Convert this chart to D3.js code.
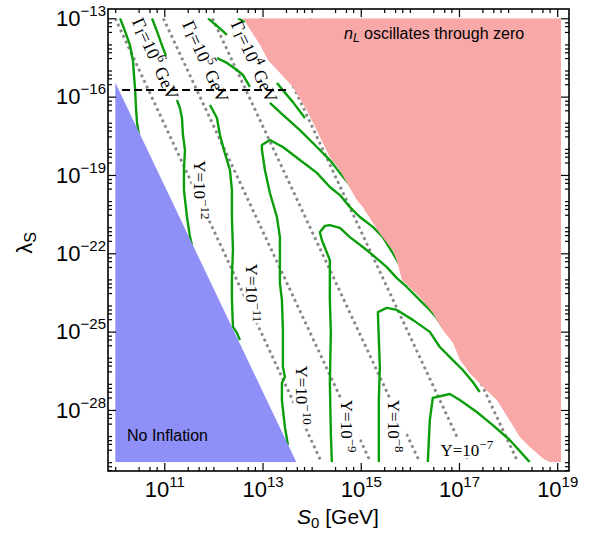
<!DOCTYPE html>
<html>
<head>
<meta charset="utf-8">
<script src="https://cdn.jsdelivr.net/npm/d3@7"></script>
<style>
  body { margin: 0; background: #fff; }
  svg { display: block; }
</style>
</head>
<body>
<div id="chart"></div>
<script>
// all points are [log10 S0, log10 lambda_S]

var sDomain = [9.854, 19.24];
var lDomain = [-30.338, -12.644];

var xMajor = [11, 13, 15, 17, 19];
var yMajor = [-28, -25, -22, -19, -16, -13];

// no inflation region (blue)
var noInflation = [[10, -15.45], [13.69, -30], [10, -30]];

// n_L oscillates through zero (pink)
var oscillates = [
  [12.60, -13], [12.95, -14.02], [13.11, -14.60], [13.62, -15.63], [13.90, -16.51],
  [14.17, -17.55], [14.37, -18.31], [14.57, -18.81], [14.72, -19.31], [14.92, -19.96],
  [15.04, -20.23], [15.38, -21.22], [15.65, -21.88], [15.73, -22.26], [15.80, -22.75],
  [15.84, -23.02], [16.20, -23.67], [16.47, -24.29], [16.67, -24.94], [16.88, -25.44],
  [17.02, -26.09], [17.22, -26.59], [17.49, -27.12], [17.77, -27.62], [18.03, -28.39],
  [18.24, -29.04], [18.44, -29.42], [18.70, -29.84], [18.85, -30], [19.08, -30], [19.08, -13]
];

// Gamma_I lines (dotted): S0 exponent at lambda = 1e-13 and at lambda = 1e-30
var gammaTop = [10.0, 10.98, 11.98, 12.98, 13.98];
var gammaBottom = [14.2, 15.2, 16.2, 17.2, 18.2];
var gammaExp = [6, 5, 4];
var gammaLabelAt = [[10.82, -14.55], [11.84, -14.66], [12.83, -14.66]];

// lambda where the dashed line sits, and its S0 span
var dashedLambda = -15.75;
var dashedSpan = [10.14, 13.56];

// Y contours (green), visible pieces
var yM13 = [[10.10, -13], [10.20, -13.49], [10.30, -14.02], [10.363, -14.64], [10.383, -15.17],
  [10.404, -15.67], [10.424, -16.43], [10.445, -17.01], [10.485, -17.47]];
var yM12a = [[10.75, -13], [10.85, -13.49], [10.95, -14.02], [11.035, -14.44]];
var yM12b = [[11.258, -16.13], [11.319, -16.44], [11.36, -16.82], [11.38, -17.47], [11.421, -18.04],
  [11.40, -18.81], [11.40, -19.57], [11.462, -20.61], [11.523, -21.37], [11.564, -21.68]];
var yM12c = [[11.889, -13], [12.072, -13.29], [12.194, -13.49], [12.276, -13.64]];
var yM12d = [[13.293, -15.48], [13.619, -16.21], [13.863, -16.82]];
var yM11a = [[11.93, -16.32], [12.072, -16.82], [12.133, -17.47], [12.214, -18.04], [12.337, -18.81],
  [12.377, -19.57], [12.377, -20.61], [12.398, -21.87], [12.377, -22.91], [12.377, -23.79],
  [12.398, -24.82], [12.479, -25.05], [12.54, -25.32]];
var yM11b = [[12.072, -14.52], [12.276, -14.71], [12.479, -14.98], [12.601, -15.17], [12.743, -15.63]];
var yM11c = [[13.15, -16.24], [13.415, -16.70], [13.761, -17.28], [14.107, -17.93], [14.371, -18.43],
  [14.575, -18.92], [14.778, -19.38]];
var yM10 = [[13.517, -29.34], [13.456, -28.65], [13.395, -27.62], [13.395, -26.97], [13.456, -26.74],
  [13.415, -26.35], [13.415, -24.94], [13.395, -23.79], [13.354, -23.14], [13.354, -21.38],
  [13.293, -20.61], [13.15, -19.69], [13.049, -18.81], [12.988, -18.04], [12.988, -17.85],
  [13.15, -17.66], [13.415, -17.93], [13.761, -18.43], [14.107, -18.92], [14.371, -19.46],
  [14.575, -19.77], [14.778, -20.23], [14.982, -20.61], [15.246, -20.99], [15.45, -21.38],
  [15.653, -21.99], [15.796, -22.45]];
var yM9 = [[14.412, -30], [14.391, -28.88], [14.371, -26.97], [14.391, -25.05], [14.371, -23.79],
  [14.371, -22.26], [14.208, -21.49], [14.167, -21.19], [14.27, -20.95], [14.371, -20.92],
  [14.575, -21.03], [14.778, -21.38], [15.043, -21.76], [15.246, -22.07], [15.531, -22.53],
  [15.735, -22.95], [15.938, -23.29], [16.264, -23.91], [16.406, -24.17], [16.549, -24.48],
  [16.671, -24.83], [16.813, -25.13], [16.976, -25.51]];
var yM8 = [[15.368, -30], [15.368, -27.62], [15.389, -26.35], [15.348, -24.25], [15.531, -24.09],
  [15.735, -24.17], [16.06, -24.55], [16.406, -25.01], [16.609, -25.59], [16.874, -26.09],
  [17.077, -26.47], [17.281, -26.93], [17.423, -27.31]];
var yM7 = [[16.365, -30], [16.406, -28.39], [16.467, -27.54], [16.813, -27.39], [17.016, -27.62],
  [17.362, -28.08], [17.688, -28.58], [18.034, -29.15], [18.441, -30]];
var yM13b = [[12.50, -13], [12.64, -13.14]];

var contours = [yM13, yM12a, yM12b, yM12c, yM12d, yM11a, yM11b, yM11c, yM10, yM9, yM8, yM7, yM13b];

// Y labels: exponent, position, rotation
var yLabelExp = [-12, -11, -10, -9, -8, -7];
var yLabelAt = [[11.73, -19.57], [12.79, -23.52], [13.80, -27.43], [14.72, -28.62], [15.67, -28.62], [17.16, -29.53]];
var yLabelRot = [90, 90, 90, 90, 90, 0];

var W = 590, H = 536;
var p10 = function(e) { return Math.pow(10, e); };

var x = d3.scaleLog().domain(sDomain.map(p10)).range([108, 569]);
var y = d3.scaleLog().domain(lDomain.map(p10)).range([471, 9]);
var px = function(d) { return x(p10(d[0])); };
var py = function(d) { return y(p10(d[1])); };

var svg = d3.select("#chart").append("svg")
    .attr("width", W)
    .attr("height", H)
    .style("font-family", "'Liberation Sans', Arial, sans-serif");

svg.append("defs").append("clipPath").attr("id", "plotclip")
  .append("rect")
    .attr("x", x(p10(10)))
    .attr("y", y(p10(-13)))
    .attr("width", x(p10(19.08)) - x(p10(10)))
    .attr("height", y(p10(-30)) - y(p10(-13)));

var plot = svg.append("g").attr("clip-path", "url(#plotclip)");
var line = d3.line().x(px).y(py);

// dotted Gamma lines
plot.selectAll(".gamma")
  .data(gammaTop)
  .enter()
  .append("path")
    .attr("class", "gamma")
    .attr("d", function(d, i) { return line([[d, -13], [gammaBottom[i], -30]]); })
    .attr("fill", "none")
    .attr("stroke", "#868686")
    .attr("stroke-width", 2.8)
    .attr("stroke-dasharray", "2.8,3.4");

// green contours
plot.selectAll(".contour")
  .data(contours)
  .enter()
  .append("path")
    .attr("class", "contour")
    .attr("d", line)
    .attr("fill", "none")
    .attr("stroke", "#0b9e0b")
    .attr("stroke-width", 2.4)
    .attr("stroke-linejoin", "round");

var serif = "'Liberation Serif', 'Times New Roman', serif";

// Y labels, on a white box that cuts the dotted lines
yLabelExp.forEach(function(e, i) {
  var g = plot.append("g")
    .attr("transform", "translate(" + px(yLabelAt[i]) + "," + py(yLabelAt[i]) + ") rotate(" + yLabelRot[i] + ")");
  var box = g.append("rect").attr("fill", "#fff");
  var t = g.append("text")
    .attr("text-anchor", "middle")
    .attr("dominant-baseline", "central")
    .attr("font-family", serif)
    .attr("font-size", 17);
  t.append("tspan").text("\u03A5=10");
  t.append("tspan").attr("font-size", 13).attr("dy", -6).text("\u2212" + (-e));
  var b = t.node().getBBox();
  box.attr("x", b.x - 1).attr("y", b.y + 1).attr("width", b.width + 2).attr("height", b.height - 2);
});

// dashed black line
plot.append("path")
  .attr("d", line([[dashedSpan[0], dashedLambda], [dashedSpan[1], dashedLambda]]))
  .attr("stroke", "#000")
  .attr("stroke-width", 2)
  .attr("stroke-dasharray", "8,4");

// shaded regions
plot.append("path")
  .attr("d", line(oscillates) + "Z")
  .attr("fill", "#f9a8a8");

plot.append("path")
  .attr("d", line(noInflation) + "Z")
  .attr("fill", "#8f8ff8");

// Gamma labels
gammaExp.forEach(function(e, i) {
  var t = svg.append("text")
    .attr("transform", "translate(" + px(gammaLabelAt[i]) + "," + py(gammaLabelAt[i]) + ") rotate(65.6)")
    .attr("text-anchor", "middle")
    .attr("dominant-baseline", "central")
    .attr("font-family", serif)
    .attr("font-size", 18);
  t.append("tspan").text("\u0393");
  t.append("tspan").attr("font-size", 13).attr("dy", 3).text("I");
  t.append("tspan").attr("dy", -3).text("=10");
  t.append("tspan").attr("font-size", 13).attr("dy", -7).text(e);
  t.append("tspan").attr("dy", 7).text(" GeV");
});

// region labels
var nl = svg.append("text")
  .attr("x", 344).attr("y", 39)
  .attr("font-size", 16);
nl.append("tspan").attr("font-style", "italic").text("n");
nl.append("tspan").attr("font-style", "italic").attr("font-size", 12).attr("dy", 3).text("L");
nl.append("tspan").attr("dy", -3).text(" oscillates through zero");

svg.append("text")
  .attr("x", 127).attr("y", 441)
  .attr("font-size", 16)
  .text("No Inflation");

// frame
svg.append("rect")
  .attr("x", 108).attr("y", 9)
  .attr("width", 461).attr("height", 462)
  .attr("fill", "none")
  .attr("stroke", "#000")
  .attr("stroke-width", 1.6);

// ticks
function minorList(lo, hi, major) {
  var out = [];
  for (var n = lo; n <= hi; n++) {
    [3, 5, 7].forEach(function(m) { out.push(m * p10(n)); });
    if (major.indexOf(n) < 0) out.push(p10(n));
  }
  return out;
}
var xMinor = minorList(9, 19, xMajor).filter(function(v) { return v > x.domain()[0] && v < x.domain()[1]; });
var yMinor = minorList(-31, -13, yMajor).filter(function(v) { return v > y.domain()[0] && v < y.domain()[1]; });

function supLabels(sel) {
  sel.selectAll(".tick text").each(function(d) {
    var e = Math.round(Math.log10(d));
    var t = d3.select(this).text(null);
    t.append("tspan").text("10");
    t.append("tspan").attr("font-size", 15).attr("dy", -10).text(e < 0 ? "\u2212" + (-e) : e);
  });
}

var axB = svg.append("g").attr("transform", "translate(0,471)")
  .call(d3.axisBottom(x).tickValues(xMajor.map(p10)).tickSize(-8).tickPadding(10).tickFormat(""));
svg.append("g").attr("transform", "translate(0,471)")
  .call(d3.axisBottom(x).tickValues(xMinor).tickSize(-4).tickFormat(""));
svg.append("g").attr("transform", "translate(0,9)")
  .call(d3.axisTop(x).tickValues(xMajor.map(p10)).tickSize(-8).tickFormat(""));
svg.append("g").attr("transform", "translate(0,9)")
  .call(d3.axisTop(x).tickValues(xMinor).tickSize(-4).tickFormat(""));

var axL = svg.append("g").attr("transform", "translate(108,0)")
  .call(d3.axisLeft(y).tickValues(yMajor.map(p10)).tickSize(-8).tickPadding(2).tickFormat(""));
svg.append("g").attr("transform", "translate(108,0)")
  .call(d3.axisLeft(y).tickValues(yMinor).tickSize(-4).tickFormat(""));
svg.append("g").attr("transform", "translate(569,0)")
  .call(d3.axisRight(y).tickValues(yMajor.map(p10)).tickSize(-8).tickFormat(""));
svg.append("g").attr("transform", "translate(569,0)")
  .call(d3.axisRight(y).tickValues(yMinor).tickSize(-4).tickFormat(""));

svg.selectAll(".domain").remove();
svg.selectAll(".tick line").attr("stroke", "#000").attr("stroke-width", 1.2);
[axB, axL].forEach(function(a) {
  a.selectAll(".tick text").attr("font-size", 22).attr("fill", "#000")
    .attr("font-family", "'Liberation Sans', Arial, sans-serif");
  a.call(supLabels);
});

// axis titles
var xt = svg.append("text")
  .attr("x", 338).attr("y", 524)
  .attr("text-anchor", "middle")
  .attr("font-size", 21);
xt.append("tspan").attr("font-style", "italic").text("S");
xt.append("tspan").attr("font-size", 15).attr("dy", 4).text("0");
xt.append("tspan").attr("dy", -4).text(" [GeV]");

var yt = svg.append("text")
  .attr("transform", "translate(32,243) rotate(-90)")
  .attr("text-anchor", "middle")
  .attr("font-size", 22);
yt.append("tspan").text("\u03BB");
yt.append("tspan").attr("font-size", 16).attr("dy", 4).text("S");
</script>
</body>
</html>
